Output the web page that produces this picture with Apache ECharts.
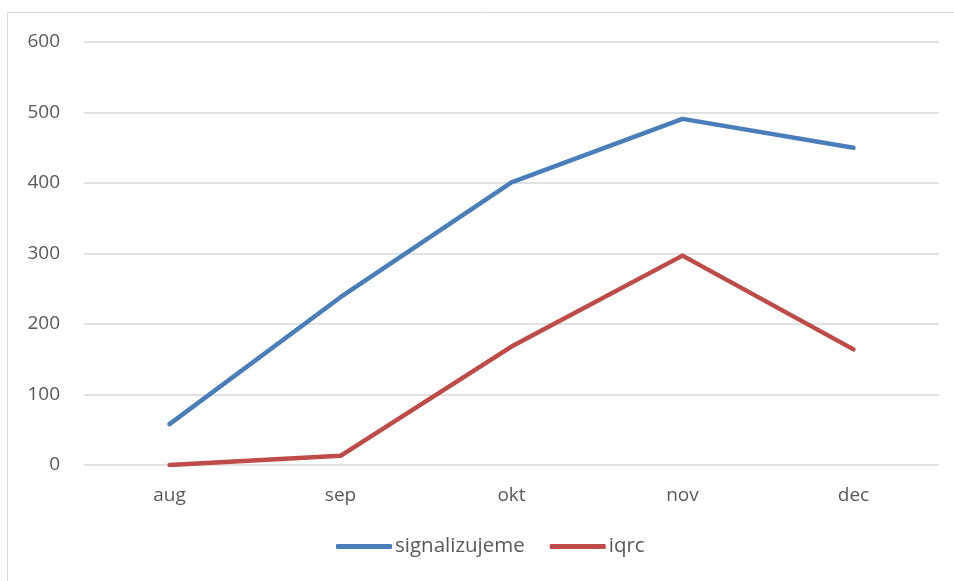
<!DOCTYPE html>
<html>
<head>
<meta charset="utf-8">
<script src="https://cdn.jsdelivr.net/npm/echarts@6/dist/echarts.min.js"></script>
<style>
  html, body { margin: 0; padding: 0; background: #ffffff; }
  #chart { width: 954px; height: 581px; }
</style>
</head>
<body>
<div id="chart"></div>
<script>
// Monthly counts per source
const months = ['aug', 'sep', 'okt', 'nov', 'dec'];
const signalizujeme = [58, 238, 401, 491, 450];
const iqrc = [0, 13, 168, 297, 164];
const yTicks = { min: 0, max: 600, interval: 100 };

const font = '"Open Sans", "Noto Sans", sans-serif';
const chart = echarts.init(document.getElementById('chart'));

chart.setOption({
  animation: false,
  backgroundColor: '#ffffff',
  graphic: [{
    type: 'rect',
    shape: { x: 7.5, y: 12.5, width: 960, height: 600 },
    style: { fill: 'none', stroke: '#d9d9d9', lineWidth: 1 },
    silent: true
  }],
  grid: { left: 84, right: 15, top: 42, bottom: 116 },
  legend: {
    bottom: 19,
    left: 331,
    icon: 'roundRect',
    itemWidth: 56,
    itemHeight: 5,
    itemGap: 25,
    textStyle: { color: '#595959', fontSize: 20.5, fontFamily: font, padding: [0, 0, 0, -2] },
    data: ['signalizujeme', 'iqrc']
  },
  xAxis: {
    type: 'category',
    data: months,
    boundaryGap: true,
    axisLine: { show: false },
    axisTick: { show: false },
    axisLabel: { color: '#595959', fontSize: 19, fontFamily: font, margin: 21 }
  },
  yAxis: {
    type: 'value',
    min: yTicks.min,
    max: yTicks.max,
    interval: yTicks.interval,
    axisLine: { show: false },
    axisTick: { show: false },
    axisLabel: { color: '#595959', fontSize: 19, fontFamily: font, margin: 24 },
    splitLine: { lineStyle: { color: '#d9d9d9', width: 1.5 } }
  },
  series: [
    {
      name: 'signalizujeme',
      type: 'line',
      data: signalizujeme,
      symbol: 'none',
      lineStyle: { color: '#4a7ebb', width: 4.5, cap: 'round', join: 'round' },
      itemStyle: { color: '#4a7ebb' }
    },
    {
      name: 'iqrc',
      type: 'line',
      data: iqrc,
      symbol: 'none',
      lineStyle: { color: '#be4b48', width: 4.5, cap: 'round', join: 'round' },
      itemStyle: { color: '#be4b48' }
    }
  ]
});
</script>
</body>
</html>
